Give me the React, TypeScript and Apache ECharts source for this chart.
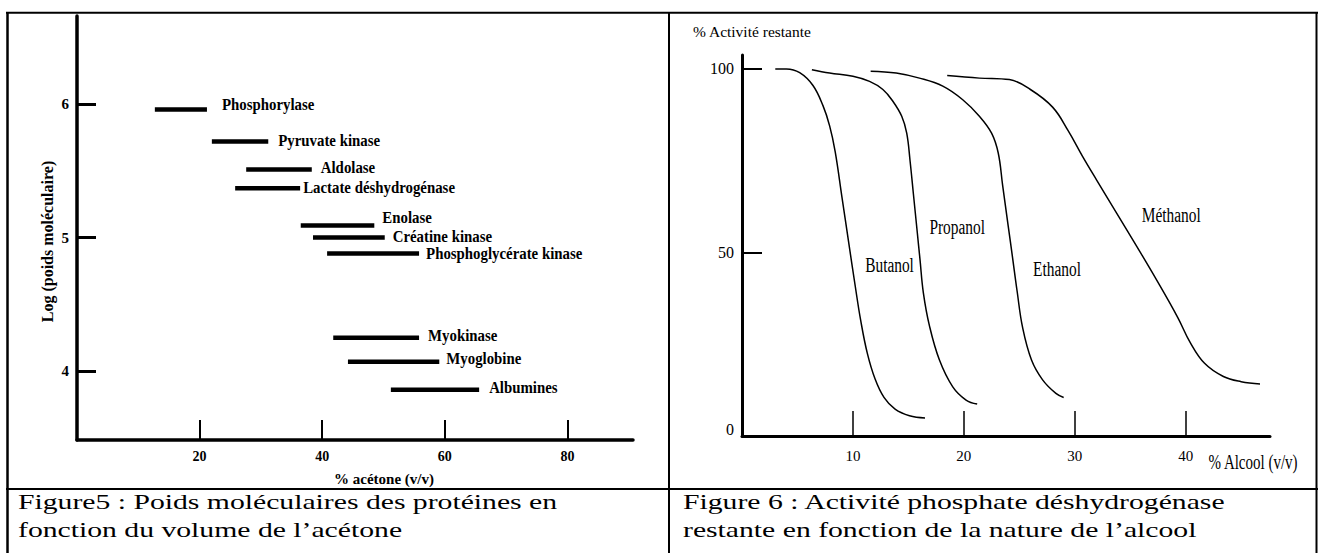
import React, { useEffect, useRef } from "react";
import * as echarts from "echarts";

// ---------- Figure 5 data ----------
const proteins = [
  "Phosphorylase",
  "Pyruvate kinase",
  "Aldolase",
  "Lactate déshydrogénase",
  "Enolase",
  "Créatine kinase",
  "Phosphoglycérate kinase",
  "Myokinase",
  "Myoglobine",
  "Albumines",
];
const acetoneStart = [12.7, 22.0, 27.6, 25.8, 36.5, 38.5, 40.8, 41.8, 44.2, 51.2];
const acetoneEnd = [21.2, 31.2, 38.3, 36.4, 48.5, 50.2, 55.8, 55.8, 59.1, 65.6];
const logMW = [5.96, 5.72, 5.51, 5.37, 5.09, 5.0, 4.88, 4.25, 4.07, 3.86];
const acetoneTicks = [20, 40, 60, 80];
const logTicks = [4, 5, 6];

// ---------- Figure 6 data ----------
const butanol = [
  [3.0, 100], [4.0, 100], [5.2, 99.0], [6.4, 95.5], [7.3, 90.0], [7.9, 84.5],
  [8.4, 77.5], [9.0, 65.3], [9.6, 53.1], [10.2, 41.0], [10.7, 31.5], [11.3, 22.5],
  [12.0, 15.5], [12.8, 10.5], [13.8, 7.3], [15.1, 5.5], [16.5, 4.9],
];
const propanol = [
  [6.3, 99.8], [7.9, 98.9], [10.0, 98.0], [11.5, 96.6], [12.7, 94.4], [13.6, 91.2],
  [14.4, 87.1], [14.85, 82.5], [15.15, 75.0], [15.45, 66.0], [15.8, 55.5], [16.05, 48.0],
  [16.35, 39.0], [16.9, 30.0], [17.8, 20.7], [19.0, 13.4], [20.2, 9.8], [21.2, 8.7],
];
const ethanol = [
  [11.6, 99.4], [13.9, 98.9], [16.0, 97.5], [18.1, 95.3], [19.9, 91.6], [21.4, 87.1],
  [22.5, 82.5], [23.1, 77.1], [23.5, 68.2], [24.0, 57.2], [24.4, 48.4], [24.8, 39.5],
  [25.3, 29.5], [26.1, 20.7], [27.1, 15.3], [28.3, 11.6], [29.0, 10.5],
];
const methanol = [
  [18.5, 98.2], [21.4, 97.5], [24.1, 97.1], [26.0, 94.4], [28.0, 89.6], [29.4, 83.2],
  [30.7, 76.2], [32.0, 69.6], [33.8, 60.6], [35.6, 51.6], [37.4, 42.4], [39.3, 32.2],
  [40.4, 25.5], [41.7, 19.8], [43.4, 16.2], [45.0, 14.8], [46.7, 14.2],
];
const alcoholNames = ["Butanol", "Propanol", "Ethanol", "Méthanol"];
const alcoholLabelX = [13.3, 19.4, 28.4, 38.7];
const alcoholLabelY = [46.4, 57.0, 45.3, 60.0];
const alcoholTicks = [10, 20, 30, 40];
const activityTicks = [50, 100];
const activityLabels = [0, 50, 100];

// ---------- styling (label offsets in px) ----------
const segLabelDx = [15, 10, 9, 3, 8, 8, 7, 9, 7, 10];
const segLabelDy = [-5, -1, -2, -1, -8, -1, 0, -2, -3, -2];

const FONT = "'Liberation Serif', 'Times New Roman', Times, serif";

function buildOption() {
  const segData = proteins.map((_, i) => [acetoneStart[i], acetoneEnd[i], logMW[i]]);
  const alcLabelData = alcoholNames.map((_, i) => [alcoholLabelX[i], alcoholLabelY[i]]);
  const curves = [butanol, propanol, ethanol, methanol];

  const border = (x1: number, y1: number, x2: number, y2: number, w = 2) => ({
    type: "line",
    shape: { x1, y1, x2, y2 },
    style: { stroke: "#000", lineWidth: w },
    silent: true,
  });

  return {
    animation: false,
    backgroundColor: "#fff",
    grid: [
      { left: 77, top: 16, width: 556, height: 424 },
      { left: 742, top: 55, width: 528, height: 381 },
    ],
    xAxis: [
      {
        gridIndex: 0,
        type: "value",
        min: 0,
        max: 90.7,
        axisLine: { show: true, onZero: false, lineStyle: { color: "#000", width: 3.5 } },
        axisTick: {
          show: true,
          inside: true,
          length: 20,
          customValues: acetoneTicks,
          lineStyle: { color: "#000", width: 2 },
        },
        axisLabel: {
          customValues: acetoneTicks,
          margin: 9,
          color: "#000",
          fontFamily: FONT,
          fontWeight: "bold",
          fontSize: 14,
        },
        splitLine: { show: false },
      },
      {
        gridIndex: 1,
        type: "value",
        min: 0,
        max: 47.6,
        axisLine: { show: true, onZero: false, lineStyle: { color: "#000", width: 3 } },
        axisTick: {
          show: true,
          inside: true,
          length: 25,
          customValues: alcoholTicks,
          lineStyle: { color: "#000", width: 1.5 },
        },
        axisLabel: {
          customValues: alcoholTicks,
          margin: 12,
          color: "#000",
          fontFamily: FONT,
          fontSize: 15,
        },
        splitLine: { show: false },
      },
    ],
    yAxis: [
      {
        gridIndex: 0,
        type: "value",
        min: 3.483,
        max: 6.66,
        axisLine: { show: true, onZero: false, lineStyle: { color: "#000", width: 3.5 } },
        axisTick: {
          show: true,
          inside: true,
          length: 19,
          customValues: logTicks,
          lineStyle: { color: "#000", width: 3 },
        },
        axisLabel: {
          customValues: logTicks,
          margin: 8,
          color: "#000",
          fontFamily: FONT,
          fontWeight: "bold",
          fontSize: 15,
        },
        splitLine: { show: false },
      },
      {
        gridIndex: 1,
        type: "value",
        min: 0,
        max: 103.8,
        axisLine: { show: true, onZero: false, lineStyle: { color: "#000", width: 3 } },
        axisTick: {
          show: true,
          inside: true,
          length: 20,
          customValues: activityTicks,
          lineStyle: { color: "#000", width: 2 },
        },
        axisLabel: {
          customValues: activityLabels,
          margin: 8,
          color: "#000",
          fontFamily: FONT,
          fontSize: 16,
          formatter: (v: number) => (v === 0 ? "{z|0}" : String(v)),
          rich: { z: { fontFamily: FONT, fontSize: 16, color: "#000", padding: [0, 0, 14, 0] } },
        },
        splitLine: { show: false },
      },
    ],
    series: [
      {
        type: "custom",
        xAxisIndex: 0,
        yAxisIndex: 0,
        encode: { x: [0, 1], y: 2 },
        data: segData,
        silent: true,
        renderItem: (params: any, api: any) => {
          const i = params.dataIndex;
          const y = api.value(2);
          const p1 = api.coord([api.value(0), y]);
          const p2 = api.coord([api.value(1), y]);
          return {
            type: "group",
            children: [
              {
                type: "line",
                shape: { x1: p1[0], y1: p1[1], x2: p2[0], y2: p2[1] },
                style: { stroke: "#000", lineWidth: 4.5 },
              },
              {
                type: "text",
                x: p2[0] + segLabelDx[i],
                y: p2[1] + segLabelDy[i],
                scaleX: 0.9,
                style: {
                  text: proteins[i],
                  fontFamily: FONT,
                  fontWeight: "bold",
                  fontSize: 16.5,
                  fill: "#000",
                  align: "left",
                  verticalAlign: "middle",
                },
              },
            ],
          };
        },
      },
      ...curves.map((c, k) => ({
        type: "line",
        name: alcoholNames[k],
        xAxisIndex: 1,
        yAxisIndex: 1,
        data: c,
        smooth: 0.4,
        showSymbol: false,
        symbol: "none",
        silent: true,
        lineStyle: { color: "#000", width: 1.5 },
      })),
      {
        type: "custom",
        xAxisIndex: 1,
        yAxisIndex: 1,
        encode: { x: 0, y: 1 },
        data: alcLabelData,
        silent: true,
        renderItem: (params: any, api: any) => {
          const i = params.dataIndex;
          const p = api.coord([api.value(0), api.value(1)]);
          return {
            type: "text",
            x: p[0],
            y: p[1],
            scaleX: 0.77,
            style: {
              text: alcoholNames[i],
              fontFamily: FONT,
              fontSize: 20,
              fill: "#000",
              align: "center",
              verticalAlign: "middle",
            },
          };
        },
      },
    ],
    graphic: [
      border(6, 12.7, 1318, 12.7),
      border(7.5, 12, 7.5, 553, 2.5),
      border(669, 12, 669, 553),
      border(1316.5, 12, 1316.5, 553),
      border(6, 489, 1318, 489),
      {
        type: "text",
        x: 47,
        y: 241.5,
        rotation: Math.PI / 2,
        silent: true,
        style: {
          text: "Log (poids moléculaire)",
          fontFamily: FONT,
          fontWeight: "bold",
          fontSize: 16,
          fill: "#000",
          align: "center",
          verticalAlign: "middle",
        },
      },
      {
        type: "text",
        x: 384,
        y: 479,
        silent: true,
        style: {
          text: "% acétone (v/v)",
          fontFamily: FONT,
          fontWeight: "bold",
          fontSize: 15,
          fill: "#000",
          align: "center",
          verticalAlign: "middle",
        },
      },
      {
        type: "text",
        x: 693,
        y: 31,
        silent: true,
        style: {
          text: "% Activité restante",
          fontFamily: FONT,
          fontSize: 15.5,
          fill: "#000",
          align: "left",
          verticalAlign: "middle",
        },
      },
      {
        type: "text",
        x: 1253,
        y: 462,
        scaleX: 0.75,
        silent: true,
        style: {
          text: "% Alcool (v/v)",
          fontFamily: FONT,
          fontSize: 20,
          fill: "#000",
          align: "center",
          verticalAlign: "middle",
        },
      },
      ...[
        ["Figure5 : Poids moléculaires des protéines en", 18, 501.5],
        ["fonction du volume de l\u2019acétone", 18, 530],
        ["Figure 6 : Activité phosphate déshydrogénase", 683, 501.5],
        ["restante en fonction de la nature de l\u2019alcool", 683, 530],
      ].map(([t, x, y]) => ({
        type: "text",
        x: x as number,
        y: y as number,
        scaleY: 0.74,
        silent: true,
        style: {
          text: t as string,
          fontFamily: FONT,
          fontSize: 29.7,
          fill: "#000",
          align: "left",
          verticalAlign: "middle",
        },
      })),
    ],
  };
}

export default function App() {
  const ref = useRef<HTMLDivElement>(null);
  useEffect(() => {
    if (!ref.current) return;
    const chart = echarts.init(ref.current, null, { renderer: "svg", width: 1320, height: 553 });
    chart.setOption(buildOption() as any);
    return () => chart.dispose();
  }, []);
  return (
    <div
      ref={ref}
      style={{ position: "fixed", left: 0, top: 0, width: 1320, height: 553, background: "#fff" }}
    />
  );
}
